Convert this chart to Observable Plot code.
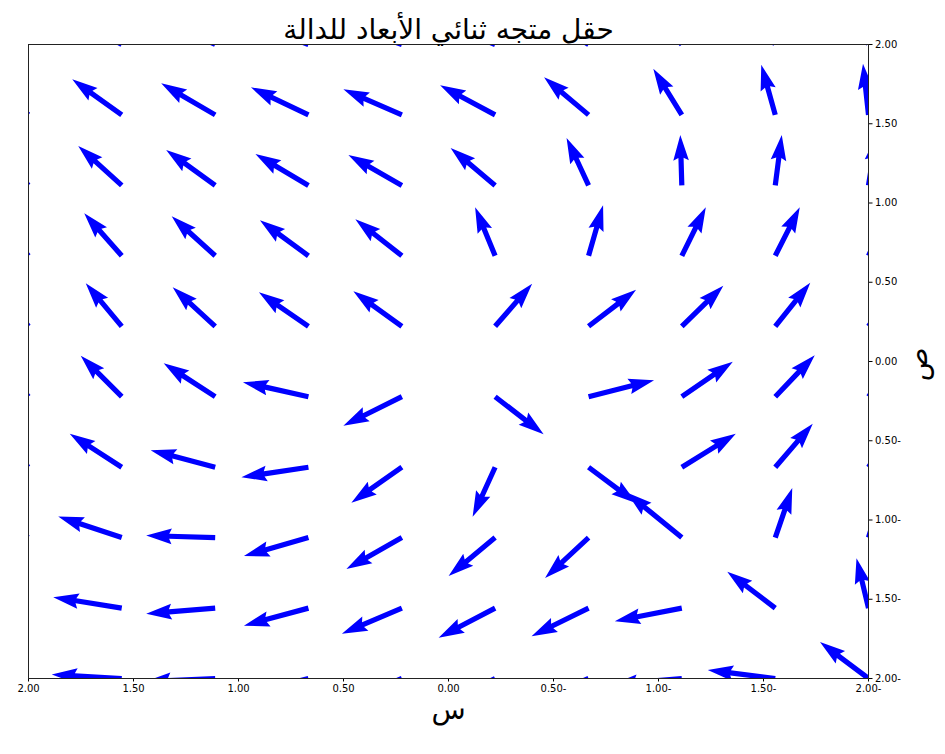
<!DOCTYPE html>
<html><head><meta charset="utf-8">
<script src="https://cdn.jsdelivr.net/npm/d3@7"></script>
<script src="https://cdn.jsdelivr.net/npm/@observablehq/plot@0.6"></script>
<style>body{margin:0;background:#fff}</style>
</head><body><div id="chart"></div>
<script>
// grid positions (screen order: x from left = 2 to right = -2; y from top = 2 to bottom = -2)
const xs = [2, 1.556, 1.111, 0.667, 0.222, -0.222, -0.667, -1.111, -1.556, -2];
const ys = [2, 1.556, 1.111, 0.667, 0.222, -0.222, -0.667, -1.111, -1.556, -2];
// vector components, one row per y value (u: rightward on screen, v: upward)
const U = [
  [-1.04, -1.08, -1.16, -1.22, -1.24, -1.22, -1.06, -0.76, -0.54, -0.36],
  [-0.92, -0.99, -1.08, -1.15, -1.17, -1.10, -0.89, -0.57, -0.28, -0.11],
  [-0.80, -0.87, -0.98, -1.06, -1.07, -0.89, -0.44, -0.03, 0.13, 0.16],
  [-0.70, -0.75, -0.87, -0.97, -0.93, -0.40, 0.29, 0.48, 0.49, 0.44],
  [-0.66, -0.72, -0.85, -0.99, -0.97, 0.74, 0.95, 0.83, 0.70, 0.60],
  [-0.72, -0.82, -1.03, -1.31, -1.17, 0.97, 1.31, 1.02, 0.79, 0.66],
  [-0.88, -1.04, -1.29, -1.34, -1.01, -0.45, 0.96, 1.08, 0.75, 0.60],
  [-1.16, -1.27, -1.38, -1.29, -1.11, -0.93, -0.87, -1.10, 0.34, 0.30],
  [-1.32, -1.37, -1.38, -1.29, -1.20, -1.13, -1.14, -1.34, -0.96, -0.24],
  [-1.38, -1.40, -1.40, -1.32, -1.22, -1.14, -1.20, -1.40, -1.35, -0.97]
];
const V = [
  [0.66, 0.62, 0.54, 0.46, 0.44, 0.50, 0.64, 0.82, 0.92, 0.96],
  [0.76, 0.71, 0.63, 0.55, 0.51, 0.59, 0.75, 0.92, 1.00, 1.02],
  [0.84, 0.79, 0.71, 0.63, 0.61, 0.75, 0.95, 1.01, 1.01, 1.00],
  [0.88, 0.85, 0.79, 0.71, 0.73, 0.97, 1.01, 0.97, 0.97, 0.96],
  [0.88, 0.86, 0.78, 0.68, 0.70, 0.85, 0.73, 0.81, 0.87, 0.90],
  [0.86, 0.82, 0.67, 0.29, -0.58, -0.75, 0.33, 0.70, 0.83, 0.88],
  [0.76, 0.67, 0.34, -0.20, -0.71, -0.99, -0.72, 0.67, 0.87, 0.90],
  [0.52, 0.42, 0.04, -0.37, -0.63, -0.77, -0.81, 0.90, 0.99, 1.00],
  [0.24, 0.22, -0.11, -0.35, -0.51, -0.59, -0.56, -0.26, 0.73, 1.00],
  [0.08, 0.08, -0.06, -0.34, -0.50, -0.58, -0.50, -0.12, 0.17, 0.73]
];
const tickValues = [2, 1.5, 1, 0.5, 0, -0.5, -1, -1.5, -2];
const titleText = "حقل متجه ثنائي الأبعاد للدالة";
const xLabel = "س";
const yLabel = "ص";

const field = [];
ys.forEach((y, i) => xs.forEach((x, j) => field.push({x, y, u: U[i][j], v: V[i][j]})));

const fmt = d => Math.abs(d).toFixed(2) + (d < 0 ? "-" : "");

// matplotlib-style filled quiver arrow (shaft + head), drawn pointing "up" from the tail
const quiverShape = {
  draw(ctx, l) {
    const sw = 2.6, hw = 7.8, hl = 25.5, hal = 23;
    ctx.moveTo(-sw, 0);
    ctx.lineTo(-sw, -(l - hal));
    ctx.lineTo(-hw, -(l - hl));
    ctx.lineTo(0, -l);
    ctx.lineTo(hw, -(l - hl));
    ctx.lineTo(sw, -(l - hal));
    ctx.lineTo(sw, 0);
    ctx.closePath();
  }
};

const chart = Plot.plot({
  width: 945,
  height: 754,
  marginLeft: 28,
  marginRight: 77,
  marginTop: 44,
  marginBottom: 76,
  style: {fontFamily: "DejaVu Sans", fontSize: "10px", color: "#000", background: "#fff"},
  x: {domain: [2, -2], ticks: tickValues, tickFormat: fmt, tickSize: 3.5, tickPadding: 3, label: null},
  y: {domain: [-2, 2], axis: "right", ticks: tickValues, tickFormat: fmt, tickSize: 3.5, tickPadding: 3, label: null},
  length: {domain: [0, 1], range: [0, 50]},
  marks: [
    Plot.vector(field, {
      x: "x", y: "y",
      length: d => Math.hypot(d.u, d.v),
      rotate: d => Math.atan2(d.u, d.v) * 180 / Math.PI,
      anchor: "start",
      shape: quiverShape,
      fill: "#0000ff",
      stroke: "none",
      clip: true
    }),
    Plot.frame({stroke: "#222", strokeWidth: 1}),
    Plot.text([titleText], {text: d => d, frameAnchor: "top", lineAnchor: "bottom", dy: -6, fontSize: 28, fill: "#000"}),
    Plot.text([xLabel], {text: d => d, frameAnchor: "bottom", lineAnchor: "middle", dy: 32, fontSize: 28, fill: "#000"}),
    Plot.text([yLabel], {text: d => d, frameAnchor: "right", dx: 50, dy: -14, rotate: -90, fontSize: 28, fill: "#000"})
  ]
});
document.getElementById("chart").append(chart);
</script></body></html>
